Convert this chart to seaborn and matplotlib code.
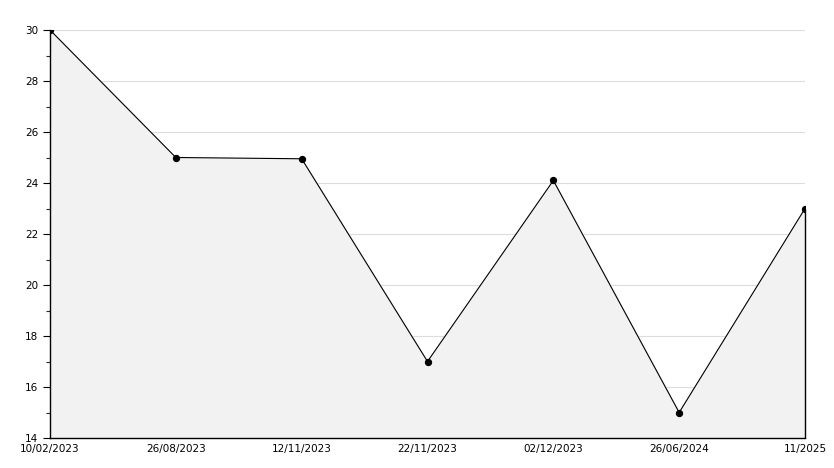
import numpy as np
import pandas as pd
import matplotlib
matplotlib.use("Agg")
import matplotlib.pyplot as plt
import seaborn as sns
from matplotlib.ticker import MultipleLocator

dates = ["10/02/2023", "26/08/2023", "12/11/2023", "22/11/2023",
         "02/12/2023", "26/06/2024", "11/2025"]
values = [30, 25, 24.95, 17, 24.1, 15, 23]

sns.set_style("white")
plt.rcParams["font.family"] = ["DejaVu Sans"]

df = pd.DataFrame({"pos": np.arange(len(dates)), "value": values})

fig = plt.figure(figsize=(8.34, 4.68), dpi=100)
ax = fig.add_axes([50 / 834, 30 / 468, 755 / 834, 408 / 468])

ax.fill_between(df["pos"], 14, df["value"], color="#f2f2f2", zorder=1)
sns.lineplot(data=df, x="pos", y="value", ax=ax, color="black", lw=0.8,
             marker="o", ms=4.5, mec="black", mfc="black", zorder=3)
# closing edge of the filled area at the last point
ax.vlines(df["pos"].iloc[-1], 14, df["value"].iloc[-1], color="black",
          lw=1, zorder=3, clip_on=False)

ax.set_xlim(0, len(dates) - 1)
ax.set_ylim(14, 30)
ax.yaxis.set_major_locator(MultipleLocator(2))
ax.yaxis.set_minor_locator(MultipleLocator(1))
ax.grid(axis="y", color="#dddddd", lw=0.8, zorder=0)
ax.set_axisbelow(True)
ax.set_xticks(df["pos"])
ax.set_xticklabels(dates)
ax.set_xlabel("")
ax.set_ylabel("")

for s in ["top", "right"]:
    ax.spines[s].set_visible(False)
for s in ["left", "bottom"]:
    ax.spines[s].set_color("black")
    ax.spines[s].set_linewidth(1)

ax.tick_params(axis="x", direction="in", length=5, width=0.8, labelsize=7.5,
               pad=4, colors="black")
ax.tick_params(axis="y", which="major", direction="out", length=5, width=0.8,
               labelsize=7.5, left=True, colors="black")
ax.tick_params(axis="y", which="minor", direction="out", length=3, width=0.8,
               left=True)

fig.savefig("out.png", dpi=100)
